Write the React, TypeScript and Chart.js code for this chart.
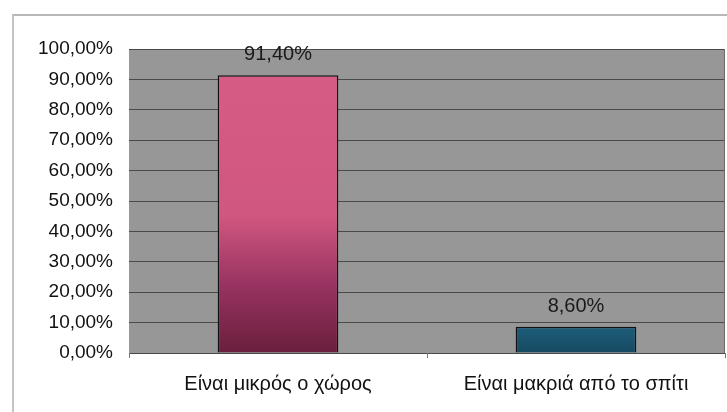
import React, { useEffect, useRef } from "react";
import { Chart, registerables } from "chart.js";

Chart.register(...registerables);

const categories = ["Είναι μικρός ο χώρος", "Είναι μακριά από το σπίτι"];
const values = [0.914, 0.086];
const valueLabels = ["91,40%", "8,60%"];

const fmtPct = (v: number) => (v * 100).toFixed(2).replace(".", ",") + "%";
const FONT = "'Liberation Sans', Arial, sans-serif";

const plotBg = {
  id: "plotBg",
  beforeDraw(chart: any) {
    const { ctx, chartArea: a } = chart;
    ctx.save();
    ctx.fillStyle = "#979797";
    ctx.fillRect(a.left, a.top, a.right - a.left, a.bottom - a.top);
    ctx.restore();
  },
  afterDraw(chart: any) {
    const { ctx, chartArea: a } = chart;
    ctx.save();
    ctx.strokeStyle = "#6a6a6a";
    ctx.lineWidth = 1;
    ctx.beginPath();
    ctx.moveTo(a.right - 0.5, a.top);
    ctx.lineTo(a.right - 0.5, a.bottom);
    ctx.stroke();
    ctx.restore();
  },
};

const dataLabels = {
  id: "dataLabels",
  afterDatasetsDraw(chart: any) {
    const { ctx } = chart;
    const meta = chart.getDatasetMeta(0);
    ctx.save();
    ctx.fillStyle = "#1a1a1a";
    ctx.font = "20px " + FONT;
    ctx.textAlign = "center";
    ctx.textBaseline = "alphabetic";
    meta.data.forEach((el: any, i: number) => {
      ctx.fillText(valueLabels[i], el.x, el.y - 15);
    });
    ctx.restore();
  },
};

export default function App() {
  const ref = useRef<HTMLCanvasElement>(null);
  useEffect(() => {
    const bg = (c: any) => {
      const chart = c.chart;
      const a = chart.chartArea;
      if (!a) return "#d45a82";
      const g = chart.ctx.createLinearGradient(0, a.top, 0, a.bottom);
      if (c.dataIndex === 0) {
        g.addColorStop(0, "#d85c86");
        g.addColorStop(0.55, "#d0577f");
        g.addColorStop(0.78, "#973260");
        g.addColorStop(1, "#6a1f3d");
      } else {
        g.addColorStop(0, "#2a7a9a");
        g.addColorStop(0.85, "#22698a");
        g.addColorStop(1, "#174a62");
      }
      return g;
    };
    const chart = new Chart(ref.current!, {
      type: "bar",
      data: {
        labels: categories,
        datasets: [
          {
            data: values,
            backgroundColor: bg,
            borderColor: "#111111",
            borderWidth: 1.5,
            categoryPercentage: 1,
            barPercentage: 0.405,
          },
        ],
      },
      options: {
        animation: false,
        responsive: false,
        maintainAspectRatio: false,
        layout: { padding: { top: 49, right: 2, left: 0, bottom: 0 } },
        plugins: { legend: { display: false }, tooltip: { enabled: false } },
        scales: {
          y: {
            min: 0,
            max: 1,
            ticks: {
              stepSize: 0.1,
              callback: (v: any) => fmtPct(Number(v)),
              color: "#111111",
              font: { family: FONT, size: 19 },
              padding: 16,
            },
            grid: { color: "#4a4a4a", lineWidth: 1, drawTicks: false },
            border: { display: false },
            afterFit: (s: any) => {
              s.width = 129;
            },
          },
          x: {
            ticks: {
              color: "#111111",
              font: { family: FONT, size: 20 },
              padding: 14,
            },
            grid: {
              drawOnChartArea: false,
              drawTicks: true,
              tickLength: 5,
              color: "#777777",
              offset: true,
            },
            border: { display: false },
            afterFit: (s: any) => {
              s.height = 59;
            },
          },
        },
      },
      plugins: [plotBg, dataLabels],
    });
    return () => chart.destroy();
  }, []);
  return (
    <div
      style={{
        position: "fixed",
        left: 0,
        top: 0,
        width: 727,
        height: 412,
        background: "#ffffff",
      }}
    >
      <div
        style={{
          position: "absolute",
          left: 12,
          top: 14,
          width: 715,
          height: 398,
          borderTop: "2px solid #b8b8b8",
          borderLeft: "2px solid #c4c4c4",
          boxSizing: "border-box",
        }}
      />
      <canvas
        ref={ref}
        width={727}
        height={412}
        style={{ position: "absolute", left: 0, top: 0 }}
      />
    </div>
  );
}
